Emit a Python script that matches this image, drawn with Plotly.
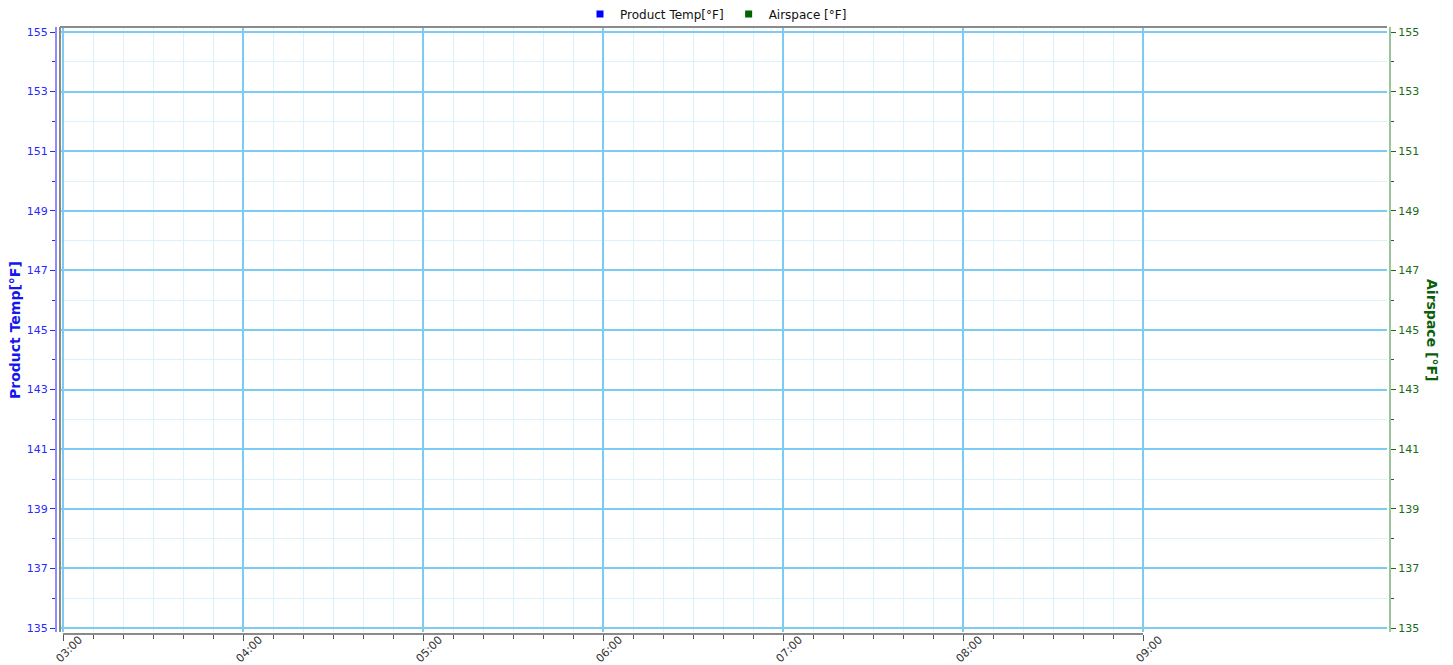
import plotly.graph_objects as go

# ---- data (the reference chart shows no plotted samples; one empty sample each) ----
product_time = [None]
product_temp = [None]
airspace_time = [None]
airspace_temp = [None]

day = "2024-01-01"
hour_labels = ["03:00", "04:00", "05:00", "06:00", "07:00", "08:00", "09:00"]
y_ticks = [135, 137, 139, 141, 143, 145, 147, 149, 151, 153, 155]
y_minor = list(range(135, 156))
x_range = [f"{day} 02:59:00", f"{day} 10:21:20"]
y_range = [134.866, 155.168]

hour_vals = [f"{day} {h}:00" for h in hour_labels]
minor_vals = [f"{day} {h:02d}:{m:02d}:00" for h in range(3, 9) for m in range(10, 60, 10)]

FONT = "DejaVu Sans"
OFF = 8  # default page body margin
W, H = 1453 - OFF, 665 - OFF
L, T = 56 - OFF, 27 - OFF
R = W - (1390 - OFF)
B = H - (634 - OFF)
PW, PH = W - L - R, H - T - B


def px_x(xs):
    return (xs - OFF - L) / PW


def px_y(ys):
    return 1 - (ys - OFF - T) / PH


fig = go.Figure()
fig.add_trace(go.Scatter(x=product_time, y=product_temp, name="Product Temp[°F]",
                         mode="markers", marker=dict(symbol="square", size=7, color="#0000ff"),
                         yaxis="y", showlegend=True))
fig.add_trace(go.Scatter(x=airspace_time, y=airspace_temp, name="Airspace [°F]",
                         mode="markers", marker=dict(symbol="square", size=7, color="#006400"),
                         yaxis="y2", showlegend=True))

fig.update_layout(
    width=W, height=H,
    margin=dict(l=L, r=R, t=T, b=B, autoexpand=False),
    paper_bgcolor="white", plot_bgcolor="white",
    font=dict(family=FONT, size=12, color="#222"),
    showlegend=True,
    legend=dict(orientation="h", x=px_x(716), xanchor="center", y=px_y(14), yanchor="middle",
                font=dict(size=12, color="#111"), itemwidth=30, tracegroupgap=0,
                bgcolor="rgba(0,0,0,0)"),
    xaxis=dict(
        type="date", range=x_range, domain=[4 / PW, 1331 / PW],
        anchor="free", position=0, automargin=False,
        tickmode="array", tickvals=hour_vals, ticktext=hour_labels, tickangle=-45,
        ticklabelshift=16, ticklabelstandoff=-12,
        ticks="outside", ticklen=6, tickwidth=1, tickcolor="#555",
        tickfont=dict(size=11, color="#333"),
        showgrid=True, gridcolor="#7ccbf3", gridwidth=1.5,
        minor=dict(tickmode="array", tickvals=minor_vals, ticks="outside", ticklen=4,
                   tickcolor="#555", showgrid=True, gridcolor="#dcf1fc", gridwidth=1),
        showline=False, zeroline=False,
    ),
    yaxis=dict(
        range=y_range, domain=[2 / PH, 1],
        anchor="free", position=0, automargin=False,
        tickmode="array", tickvals=y_ticks,
        ticks="outside", ticklen=5, tickwidth=1, tickcolor="#2a2aff",
        tickfont=dict(size=11, color="#2a2aff"),
        showgrid=True, gridcolor="#7ccbf3", gridwidth=1.5,
        minor=dict(tickmode="array", tickvals=y_minor, ticks="outside", ticklen=3,
                   tickcolor="#2a2aff", showgrid=True, gridcolor="#dcf1fc", gridwidth=1),
        showline=True, linecolor="#8c8cff", linewidth=2, zeroline=False,
    ),
    yaxis2=dict(
        range=y_range, overlaying="y", side="right",
        anchor="free", position=1, automargin=False,
        tickmode="array", tickvals=y_ticks,
        ticks="outside", ticklen=5, tickwidth=1, tickcolor="#1a6b1a",
        tickfont=dict(size=11, color="#1a6b1a"),
        minor=dict(tickmode="array", tickvals=y_minor, ticks="outside", ticklen=3,
                   tickcolor="#1a6b1a"),
        showgrid=False, showline=True, linecolor="#9cc49c", linewidth=2, zeroline=False,
    ),
)

# frame lines (left and top) and the partial x-axis line
fig.add_shape(type="line", xref="x domain", yref="y domain", x0=0, x1=0, y0=0, y1=1,
              line=dict(color="#8a8a8a", width=2))
fig.add_shape(type="line", xref="x domain", yref="y domain", x0=0, x1=1, y0=1, y1=1,
              line=dict(color="#8a8a8a", width=2))
fig.add_shape(type="line", xref="x", yref="paper", x0=hour_vals[0], x1=hour_vals[-1], y0=0, y1=0,
              line=dict(color="#8a8a8a", width=2))

# axis titles
fig.add_annotation(text="<b>Product Temp[°F]</b>", xref="paper", yref="paper",
                   x=px_x(15), y=px_y(330), xanchor="center", yanchor="middle",
                   textangle=-90, showarrow=False,
                   font=dict(size=14, color="#1515ee", family=FONT))
fig.add_annotation(text="<b>Airspace [°F]</b>", xref="paper", yref="paper",
                   x=px_x(1432), y=px_y(330), xanchor="center", yanchor="middle",
                   textangle=90, showarrow=False,
                   font=dict(size=14, color="#0b5e0b", family=FONT))

fig.write_html("out.html")
